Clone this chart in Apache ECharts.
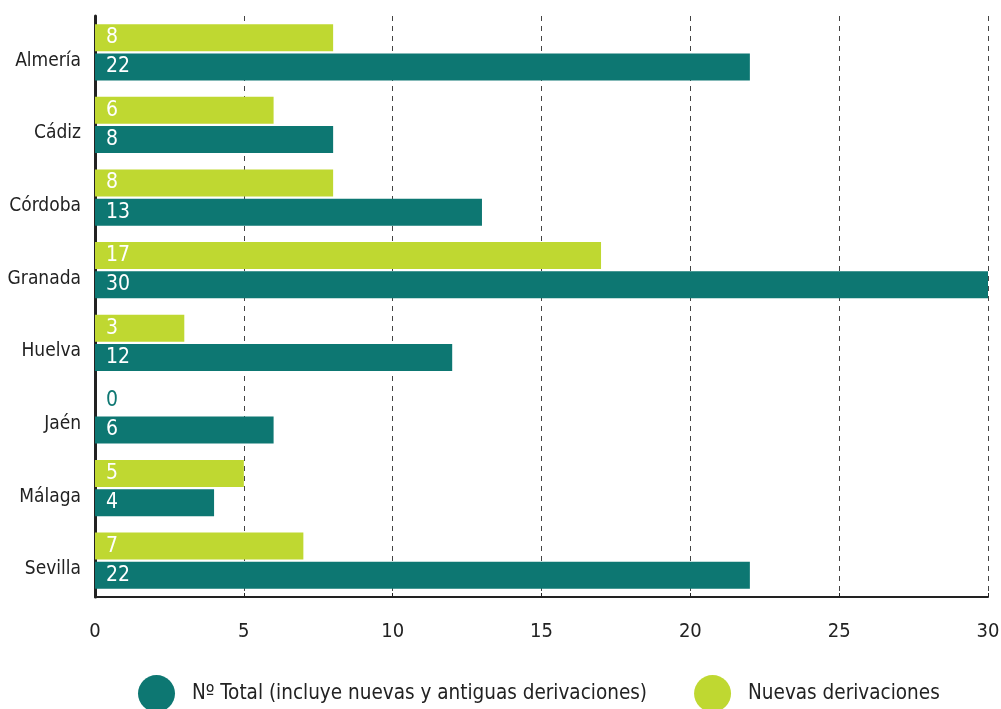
<!DOCTYPE html>
<html>
<head>
<meta charset="utf-8">
<script src="https://cdn.jsdelivr.net/npm/echarts@6/dist/echarts.min.js"></script>
<style>
  html, body { margin: 0; padding: 0; background: #fff; }
  #chart { width: 1001px; height: 709px; }
</style>
</head>
<body>
<div id="chart"></div>
<script>
// Provinces, listed top to bottom
const provincias = ['Almería', 'Cádiz', 'Córdoba', 'Granada', 'Huelva', 'Jaén', 'Málaga', 'Sevilla'];
// New referrals per province
const nuevas = [8, 6, 8, 17, 3, 0, 5, 7];
// Total referrals (new and old) per province
const total = [22, 8, 13, 30, 12, 6, 4, 22];
// x-axis range
const xTicks = [0, 5, 10, 15, 20, 25, 30];

const nombreTotal = 'Nº Total (incluye nuevas y antiguas derivaciones)';
const nombreNuevas = 'Nuevas derivaciones';
const TEAL = '#0d7772';
const LIME = '#bfd831';
const FONT = "'DejaVu Sans Condensed', Roboto, sans-serif";

const chart = echarts.init(document.getElementById('chart'), null, { renderer: 'canvas' });

function valueLabel(color) {
  return {
    show: true,
    position: 'insideLeft',
    distance: 11,
    color: color,
    fontFamily: FONT,
    fontSize: 21
  };
}

chart.setOption({
  animation: false,
  backgroundColor: '#fff',
  textStyle: { fontFamily: FONT },
  grid: { left: 95, right: 13, top: 16, bottom: 112, containLabel: false, outerBoundsMode: 'none' },
  legend: {
    bottom: -8,
    left: 133,
    icon: 'circle',
    itemWidth: 37,
    itemHeight: 37,
    itemGap: 47,
    data: [nombreTotal, nombreNuevas],
    textStyle: { fontFamily: FONT, fontSize: 20.5, color: '#222', padding: [0, 0, 0, 12] }
  },
  xAxis: {
    type: 'value',
    min: xTicks[0],
    max: xTicks[xTicks.length - 1],
    interval: 5,
    axisLine: { show: true, lineStyle: { color: '#222', width: 2 } },
    axisTick: { show: true, inside: true, length: 4, lineStyle: { color: '#222' } },
    axisLabel: { fontFamily: FONT, fontSize: 20, color: '#222', margin: 25 },
    splitLine: { show: true, lineStyle: { color: '#444', type: [5, 5], width: 1 } }
  },
  yAxis: {
    type: 'category',
    inverse: true,
    data: provincias,
    axisLine: { show: true, lineStyle: { color: '#222', width: 3 } },
    axisTick: { show: false },
    axisLabel: {
      fontFamily: FONT, fontSize: 19, color: '#222', margin: 14,
      verticalAlign: 'top', lineHeight: 17
    }
  },
  series: [
    {
      name: nombreNuevas,
      type: 'bar',
      data: nuevas.map(v => ({
        value: v,
        label: valueLabel(v === 0 ? TEAL : '#fff')
      })),
      itemStyle: { color: LIME },
      barWidth: 27,
      barGap: '8%',
      label: valueLabel('#fff')
    },
    {
      name: nombreTotal,
      type: 'bar',
      data: total,
      itemStyle: { color: TEAL },
      barWidth: 27,
      barGap: '8%',
      label: valueLabel('#fff')
    }
  ]
});
</script>
</body>
</html>
